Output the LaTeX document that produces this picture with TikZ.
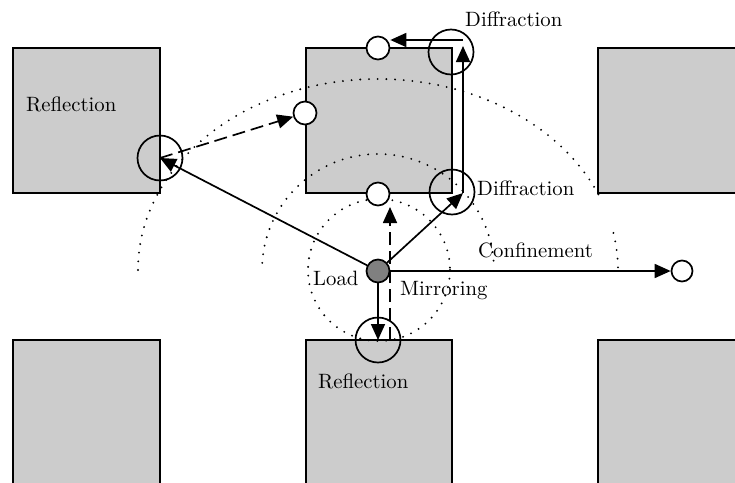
\documentclass[tikz,border=0pt]{standalone}
\usepackage{fontspec}
\usetikzlibrary{arrows.meta,calc}
\newcommand{\bigtxt}[1]{\scalebox{2.074}{#1}}
\begin{document}
\begin{tikzpicture}[x=1pt,y=-1pt,
  block/.style={draw=black, line width=1.6pt, fill=black!20},
  dots/.style={line width=2.1pt, line cap=round, dash pattern=on 0pt off 8.7pt},
  arr/.style={line width=1.7pt, -{Triangle[length=16pt,width=14pt]}},
  dsh/.style={dash pattern=on 13pt off 6pt},
  pt/.style={circle, draw, line width=1.7pt, fill=white, minimum size=23pt, inner sep=0pt},
  ring/.style={circle, draw, line width=1.7pt, minimum size=45pt, inner sep=0pt},
  lbl/.style={anchor=base west, inner sep=0pt, font=\fontsize{10}{12}\selectfont}]
\clip (0,0) rectangle (735,482);
\fill[white] (0,0) rectangle (735,482);
% blocks
\draw[block] (13,48) rectangle (160,193);
\draw[block] (306,48) rectangle (452,193);
\draw[block] (598,48) rectangle (760,193);
\draw[block] (13,340) rectangle (160,500);
\draw[block] (306,340) rectangle (452,500);
\draw[block] (598,340) rectangle (760,500);
% dotted wave fronts
\coordinate (c0) at (378,270);
\draw[dots] (379,270) circle[radius=71];
\draw[dots] ($(c0)+(183.5:116)$) arc[start angle=183.5, end angle=357.5, radius=116];
\draw[dots] ($(c0)+(180:240 and 191)$) arc[start angle=180, end angle=338.5, x radius=240, y radius=191];
\draw[dots] ($(c0)+(348.8:240 and 191)$) arc[start angle=348.8, end angle=359.5, x radius=240, y radius=191];
% nodes
\node[circle, draw, line width=1.7pt, fill=black!50, minimum size=23pt, inner sep=0pt] (load) at (378,271) {};
\node[pt] (wTop) at (378,48) {};
\node[pt] (wLeft) at (305,113) {};
\node[pt] (wBot) at (378,194) {};
\node[pt, minimum size=21pt] (wConf) at (682,271) {};
\node[ring] (cTR) at (451,52) {};
\node[ring] (cBR) at (452,192) {};
\node[ring] (cL) at (160,158) {};
\node[ring] (cB) at (378,340) {};
\coordinate (dBR) at (463,193);
\coordinate (dTRa) at (463,46);
\coordinate (dTRb) at (463,40);
\coordinate (mB) at (390,340);
\coordinate (mT) at (390,207);
% connectors
\draw[arr] (load) -- (cL.center);
\draw[arr,dsh] (cL.center) -- (wLeft);
\draw[arr] (load) -- (dBR);
\draw[arr] (dBR) -- (dTRa);
\draw[arr] (dTRb) -- (dTRb -| wTop.east);
\draw[arr] (load) -- (cB.center);
\draw[arr,dsh] (mB) -- (mT);
\draw[arr] (load) -- (wConf);
% labels
\node[lbl] (lRefl1) at (26,111) {\bigtxt{Reflection}};
\node[lbl] (lDiff1) at (465,26) {\bigtxt{Diffraction}};
\node[lbl] (lDiff2) at (477,195) {\bigtxt{Diffraction}};
\node[lbl] (lConf) at (478,257) {\bigtxt{Confinement}};
\node[lbl] (lLoad) at (313,285) {\bigtxt{Load}};
\node[lbl] (lMirr) at (400,295) {\bigtxt{Mirroring}};
\node[lbl] (lRefl2) at (318,388) {\bigtxt{Reflection}};
\end{tikzpicture}
\end{document}
